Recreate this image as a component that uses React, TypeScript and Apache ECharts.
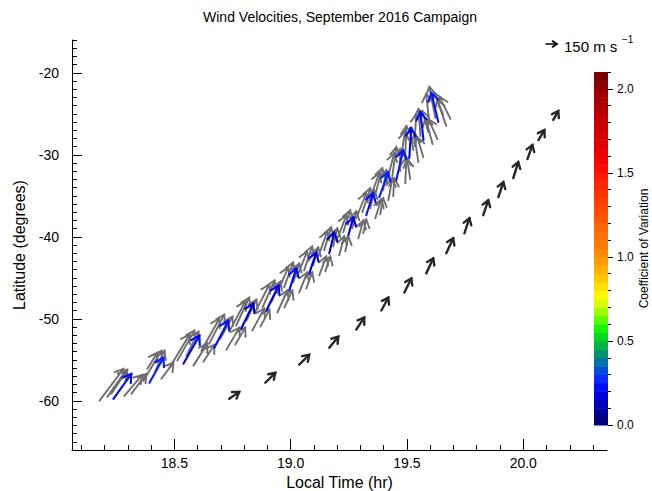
import React, { useEffect, useRef } from "react";
import * as echarts from "echarts";

const FONT = '"Liberation Sans", Arial, Helvetica, sans-serif';

const TITLE = "Wind Velocities, September 2016 Campaign";
const X_NAME = "Local Time (hr)";
const Y_NAME = "Latitude (degrees)";
const CB_NAME = "Coefficient of Variation";

const X_MIN = 18.06;
const X_MAX = 20.36;
const Y_MIN = -66;
const Y_MAX = -16;
const CB_MIN = 0;
const CB_MAX = 2.1;

const X_TICKS = [18.5, 19.0, 19.5, 20.0];
const X_MINOR = [18.1, 18.2, 18.3, 18.4, 18.6, 18.7, 18.8, 18.9, 19.1, 19.2, 19.3, 19.4, 19.6, 19.7, 19.8, 19.9, 20.1, 20.2, 20.3];
const Y_TICKS = [-60, -50, -40, -30, -20];
const CB_TICKS = [0.0, 0.5, 1.0, 1.5, 2.0];

// reference vector
const REF_SPEED = 150; // m/s
const PX_PER_MS = 11 / 150;

// mean vectors (coloured by coefficient of variation)
const meanLT = [18.238, 18.393, 18.539, 18.672, 18.788, 18.896, 18.994, 19.080, 19.166, 19.248, 19.325, 19.381, 19.454, 19.510, 19.571, 19.635];
const meanLat = [-59.76, -57.80, -55.47, -53.52, -51.19, -48.99, -46.54, -44.46, -42.02, -39.82, -37.37, -35.17, -33.09, -30.40, -28.20, -25.99];
const meanU = [245, 191, 218, 191, 164, 164, 95, 95, 68, 68, 95, 123, 95, 27, -41, -95];
const meanV = [341, 341, 382, 368, 341, 341, 300, 286, 286, 245, 300, 341, 409, 409, 382, 395];
const meanCV = [0.22, 0.25, 0.21, 0.23, 0.17, 0.2, 0.22, 0.19, 0.14, 0.2, 0.23, 0.26, 0.24, 0.21, 0.22, 0.24];

// individual vectors (gray)
const grayLT = [
  18.178, 18.212, 18.285, 18.229,
  18.315, 18.367, 18.384, 18.444, 18.419,
  18.479, 18.513, 18.552, 18.582, 18.625,
  18.616, 18.650, 18.698, 18.724, 18.762,
  18.736, 18.766, 18.810, 18.835, 18.870,
  18.844, 18.879, 18.918, 18.943, 18.973,
  18.942, 18.972, 19.011, 19.037, 19.067,
  19.028, 19.058, 19.097, 19.123, 19.149,
  19.119, 19.144, 19.183, 19.209, 19.235,
  19.201, 19.226, 19.265, 19.291, 19.312,
  19.282, 19.308, 19.342, 19.364, 19.385,
  19.338, 19.364, 19.398, 19.420, 19.441,
  19.411, 19.437, 19.471, 19.493, 19.514,
  19.471, 19.493, 19.527, 19.549, 19.570,
  19.532, 19.558, 19.592, 19.610, 19.631,
  19.596, 19.622, 19.656, 19.669, 19.687,
];
const grayLat = [
  -60.00, -59.52, -59.39, -59.15,
  -59.15, -57.56, -56.09, -57.31, -56.33,
  -55.96, -55.10, -54.49, -55.71, -55.23,
  -53.89, -53.03, -52.42, -53.76, -53.15,
  -51.56, -50.82, -50.21, -51.43, -50.95,
  -49.36, -48.62, -47.89, -49.23, -48.62,
  -46.91, -46.17, -45.56, -46.78, -46.30,
  -44.83, -44.09, -43.48, -44.70, -44.22,
  -42.39, -41.65, -41.16, -42.26, -41.78,
  -40.19, -39.45, -38.96, -40.19, -39.58,
  -37.74, -37.00, -36.51, -37.74, -37.25,
  -35.54, -34.80, -34.31, -35.54, -35.05,
  -33.46, -32.60, -31.99, -33.46, -32.97,
  -30.77, -29.91, -29.42, -30.89, -30.28,
  -28.57, -27.71, -27.22, -28.69, -28.08,
  -26.23, -25.50, -25.13, -26.48, -25.62,
];
const grayU = [
  327, 259, 245, 218,
  205, 245, 136, 164, 123,
  273, 232, 164, 191, 150,
  245, 205, 164, 177, 136,
  218, 177, 136, 164, 123,
  205, 164, 123, 136, 109,
  150, 123, 82, 109, 82,
  136, 109, 68, 95, 68,
  123, 95, 55, 68, 41,
  123, 95, 55, 68, 41,
  136, 109, 55, 82, 41,
  136, 95, 41, 55, 14,
  109, 55, 0, 14, -41,
  68, 14, -41, -55, -82,
  27, -27, -82, -95, -123,
  -41, -82, -123, -123, -150,
];
const grayV = [
  436, 368, 286, 327,
  273, 409, 218, 218, 273,
  450, 409, 327, 300, 232,
  436, 396, 300, 300, 232,
  409, 382, 286, 300, 232,
  396, 368, 273, 300, 232,
  355, 341, 259, 273, 218,
  341, 327, 245, 259, 205,
  341, 314, 245, 259, 205,
  314, 300, 232, 245, 191,
  341, 327, 245, 259, 218,
  368, 355, 273, 300, 245,
  409, 396, 300, 355, 273,
  409, 382, 300, 368, 273,
  396, 368, 286, 355, 273,
  409, 423, 300, 355, 300,
];

// displaced track (black)
const blackLT = [18.736, 18.891, 19.037, 19.166, 19.282, 19.390, 19.489, 19.583, 19.669, 19.747, 19.828, 19.893, 19.957, 20.018, 20.065, 20.129];
const blackLat = [-59.76, -57.80, -55.60, -53.52, -51.31, -48.99, -46.79, -44.46, -42.02, -39.57, -37.37, -35.17, -32.84, -30.52, -28.20, -25.75];
const blackU = [136, 136, 136, 123, 109, 95, 95, 95, 95, 68, 68, 68, 68, 68, 82, 68];
const blackV = [95, 136, 136, 150, 164, 177, 191, 205, 205, 205, 205, 205, 218, 191, 136, 123];

// colour table of the colour bar
const CV_STOPS: [number, string][] = [
  [0.0, "#00006e"], [0.1, "#0000a8"], [0.2, "#0000ee"], [0.28, "#0a2cff"],
  [0.35, "#0060c8"], [0.4, "#00828a"], [0.45, "#00a050"], [0.5, "#00c832"],
  [0.56, "#00f000"], [0.63, "#60ff00"], [0.7, "#c0ff00"], [0.76, "#ffff00"],
  [0.85, "#ffd200"], [0.95, "#ffa500"], [1.05, "#ff8200"], [1.2, "#ff5f00"],
  [1.35, "#ff3a00"], [1.5, "#ff1400"], [1.6, "#f00000"], [1.8, "#c80000"],
  [2.0, "#960000"], [2.1, "#6e0000"],
];
const CB_STEP = 0.05;

function hexToRgb(h: string) {
  const n = parseInt(h.slice(1), 16);
  return [(n >> 16) & 255, (n >> 8) & 255, n & 255];
}
function cvColor(v: number): string {
  const s = CV_STOPS;
  if (v <= s[0][0]) return s[0][1];
  for (let i = 1; i < s.length; i++) {
    if (v <= s[i][0]) {
      const t = (v - s[i - 1][0]) / (s[i][0] - s[i - 1][0]);
      const a = hexToRgb(s[i - 1][1]);
      const b = hexToRgb(s[i][1]);
      const c = a.map((x, k) => Math.round(x + (b[k] - x) * t));
      return `rgb(${c[0]},${c[1]},${c[2]})`;
    }
  }
  return s[s.length - 1][1];
}

function arrowChildren(x0: number, y0: number, dx: number, dy: number, color: string, width: number, headLen: number, headHalf: number) {
  const x1 = x0 + dx;
  const y1 = y0 + dy;
  const len = Math.hypot(dx, dy) || 1;
  const ux = dx / len;
  const uy = dy / len;
  const bx = x1 - ux * headLen;
  const by = y1 - uy * headLen;
  const px = -uy;
  const py = ux;
  return [
    { type: "line", shape: { x1: x0, y1: y0, x2: x1, y2: y1 }, style: { stroke: color, lineWidth: width, lineCap: "round" } },
    {
      type: "polyline",
      shape: { points: [[bx + px * headHalf, by + py * headHalf], [x1, y1], [bx - px * headHalf, by - py * headHalf]] },
      style: { stroke: color, lineWidth: width, fill: "none", lineJoin: "miter", lineCap: "round" },
    },
  ];
}

function makeArrowRenderer(fixedColor: string | null, width: number, headLen: number, headHalf: number) {
  return (params: any, api: any) => {
    const p = api.coord([api.value(0), api.value(1)]);
    const dx = api.value(2) * PX_PER_MS;
    const dy = -api.value(3) * PX_PER_MS;
    const color = fixedColor ?? cvColor(api.value(4));
    return { type: "group", children: arrowChildren(p[0], p[1], dx, dy, color, width, headLen, headHalf) };
  };
}

export default function App() {
  const ref = useRef<HTMLDivElement>(null);
  useEffect(() => {
    document.body.style.margin = "0";
    const chart = echarts.init(ref.current!, null, { renderer: "svg" });

    const yMinor: number[] = [];
    for (let v = Math.ceil(Y_MIN); v <= Y_MAX; v++) if (v % 10 !== 0) yMinor.push(v);
    const cbMinor: number[] = [];
    for (let i = 1; i <= 21; i++) if (i % 5 !== 0) cbMinor.push(+(i * 0.1).toFixed(1));
    const cbBands: number[][] = [];
    for (let i = 0; i * CB_STEP < CB_MAX - 1e-9; i++) cbBands.push([i * CB_STEP, Math.min((i + 1) * CB_STEP, CB_MAX)]);

    const grayData = grayLT.map((lt, i) => [lt, grayLat[i], grayU[i], grayV[i]]);
    const meanData = meanLT.map((lt, i) => [lt, meanLat[i], meanU[i], meanV[i], meanCV[i]]);
    const blackData = blackLT.map((lt, i) => [lt, blackLat[i], blackU[i], blackV[i]]);

    const tickStyle = { color: "#000", width: 1 };
    const legendLen = REF_SPEED * PX_PER_MS;

    const option: any = {
      animation: false,
      textStyle: { fontFamily: FONT },
      grid: [
        { left: 72, top: 40, width: 535, height: 410, outerBoundsMode: "none", containLabel: false },
        { left: 594, top: 72, width: 14, height: 353, outerBoundsMode: "none", containLabel: false },
      ],
      xAxis: [
        {
          gridIndex: 0, type: "value", min: X_MIN, max: X_MAX, position: "bottom",
          axisLine: { show: true, onZero: false, lineStyle: tickStyle },
          axisTick: { show: true, inside: true, length: 11, customValues: X_TICKS, lineStyle: tickStyle },
          axisLabel: { customValues: X_TICKS, formatter: (v: number) => v.toFixed(1), fontSize: 14, color: "#000", margin: 6, fontFamily: FONT },
          splitLine: { show: false },
          name: X_NAME, nameLocation: "middle", nameGap: 22,
          nameTextStyle: { fontSize: 16, color: "#000", fontFamily: FONT },
        },
        {
          gridIndex: 0, type: "value", min: X_MIN, max: X_MAX, position: "bottom",
          axisLine: { show: false, onZero: false },
          axisTick: { show: true, inside: true, length: 5, customValues: X_MINOR, lineStyle: tickStyle },
          axisLabel: { show: false }, splitLine: { show: false },
        },
        { gridIndex: 1, type: "value", min: 0, max: 1, show: false },
      ],
      yAxis: [
        {
          gridIndex: 0, type: "value", min: Y_MIN, max: Y_MAX, position: "left",
          axisLine: { show: true, onZero: false, lineStyle: tickStyle },
          axisTick: { show: true, inside: true, length: 10, customValues: Y_TICKS, lineStyle: tickStyle },
          axisLabel: { customValues: Y_TICKS, formatter: (v: number) => String(v), fontSize: 14, color: "#000", margin: 13, fontFamily: FONT },
          splitLine: { show: false },
          name: Y_NAME, nameLocation: "middle", nameGap: 38, nameRotate: 90,
          nameTextStyle: { fontSize: 16, color: "#000", fontFamily: FONT },
        },
        {
          gridIndex: 0, type: "value", min: Y_MIN, max: Y_MAX, position: "left",
          axisLine: { show: false, onZero: false },
          axisTick: { show: true, inside: true, length: 5, customValues: yMinor, lineStyle: tickStyle },
          axisLabel: { show: false }, splitLine: { show: false },
        },
        {
          gridIndex: 1, type: "value", min: CB_MIN, max: CB_MAX, position: "right",
          axisLine: { show: false, onZero: false },
          axisTick: { show: true, inside: false, length: 5, customValues: CB_TICKS, lineStyle: tickStyle },
          axisLabel: { customValues: CB_TICKS, formatter: (v: number) => v.toFixed(1), fontSize: 12, color: "#000", margin: 9, fontFamily: FONT },
          splitLine: { show: false },
          name: CB_NAME, nameLocation: "middle", nameGap: 29, nameRotate: 90,
          nameTextStyle: { fontSize: 12, color: "#000", fontFamily: FONT },
        },
        {
          gridIndex: 1, type: "value", min: CB_MIN, max: CB_MAX, position: "right",
          axisLine: { show: false, onZero: false },
          axisTick: { show: true, inside: false, length: 3, customValues: cbMinor, lineStyle: tickStyle },
          axisLabel: { show: false }, splitLine: { show: false },
        },
      ],
      series: [
        {
          type: "custom", name: "colorbar", xAxisIndex: 2, yAxisIndex: 2, data: cbBands, silent: true,
          encode: { x: -1, y: [0, 1] },
          renderItem: (params: any, api: any) => {
            const lo = api.value(0);
            const hi = api.value(1);
            const a = api.coord([0, hi]);
            const b = api.coord([1, lo]);
            return { type: "rect", shape: { x: a[0], y: a[1], width: b[0] - a[0], height: b[1] - a[1] + 0.5 }, style: { fill: cvColor((lo + hi) / 2) } };
          },
        },
        { type: "custom", name: "individual", xAxisIndex: 0, yAxisIndex: 0, data: grayData, silent: true, renderItem: makeArrowRenderer("#6e6e6e", 1.9, 8, 5) },
        { type: "custom", name: "mean", xAxisIndex: 0, yAxisIndex: 0, data: meanData, silent: true, renderItem: makeArrowRenderer(null, 2.1, 8, 5) },
        { type: "custom", name: "displaced", xAxisIndex: 0, yAxisIndex: 0, data: blackData, silent: true, renderItem: makeArrowRenderer("#262626", 2.4, 6, 4) },
      ],
      graphic: [
        {
          type: "text", x: 340, y: 17,
          style: { text: TITLE, fontSize: 14, fontFamily: FONT, fill: "#000", align: "center", verticalAlign: "middle", textAlign: "center", textVerticalAlign: "middle" },
        },
        { type: "group", children: arrowChildren(546, 44, legendLen, 0, "#000", 1.6, 4.5, 3) },
        {
          type: "text", x: 564, y: 46,
          style: { text: "150 m s", fontSize: 15, fontFamily: FONT, fill: "#000", align: "left", verticalAlign: "middle", textAlign: "left", textVerticalAlign: "middle" },
        },
        {
          type: "text", x: 622, y: 39,
          style: { text: "\u22121", fontSize: 10, fontFamily: FONT, fill: "#000", align: "left", verticalAlign: "middle", textAlign: "left", textVerticalAlign: "middle" },
        },
      ],
    };
    chart.setOption(option);
    return () => chart.dispose();
  }, []);
  return <div ref={ref} style={{ width: 652, height: 491 }} />;
}
